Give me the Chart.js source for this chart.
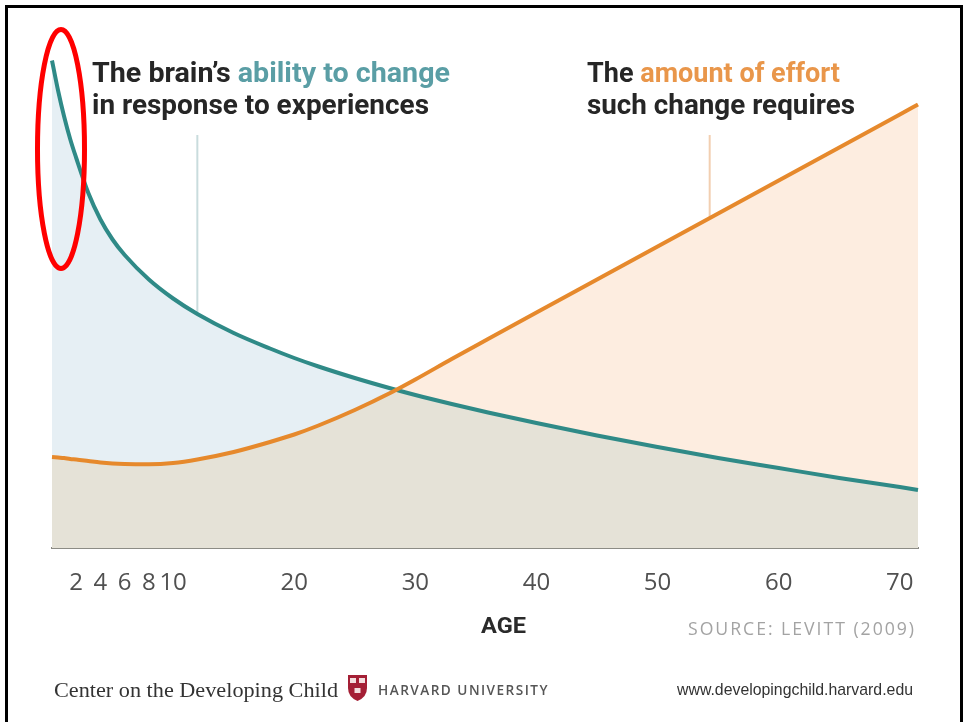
<!DOCTYPE html>
<html lang="en">
<head>
<meta charset="UTF-8">
<title>The brain's ability to change vs. the effort it requires</title>
<script src="https://cdn.jsdelivr.net/npm/chart.js"></script>
<style>
    body { margin: 0; background: #fff; }
    #page { position: relative; width: 964px; height: 722px; overflow: hidden; background: #fff; }
    #frame { position: absolute; left: 5px; top: 5px; width: 952px; height: 760px; border: 3px solid #000; }
    #chart { position: absolute; left: 0; top: 0; }
    .txt { position: absolute; white-space: nowrap; line-height: 1; transform-origin: left top; }
    .title { font-family: Roboto, sans-serif; font-weight: 700; font-size: 28px; color: #262626; }
    .teal { color: #5a9ea5; }
    .orange { color: #e9964a; }
    #age { font-family: Roboto, sans-serif; font-weight: 700; font-size: 22px; color: #2a2a2a; }
    #source { font-family: "Open Sans", sans-serif; font-size: 18px; color: #a3a3a3; letter-spacing: 2px; }
    #center { font-family: "Liberation Serif", serif; font-size: 22px; color: #333; }
    #harvard { font-family: "Open Sans", sans-serif; font-weight: 600; font-size: 14px; color: #555; letter-spacing: 1.5px; }
    #url { font-family: "Liberation Sans Narrow", "Liberation Sans", sans-serif; font-size: 17px; color: #333; }
    svg { position: absolute; left: 0; top: 0; }
</style>
</head>
<body>
<div id="page">
    <canvas id="chart" width="964" height="722"></canvas>

    <div class="txt title" data-fit="358" style="left:92px; top:59px;">The brain’s <span class="teal">ability to change</span></div>
    <div class="txt title" data-fit="337" style="left:92px; top:91px;">in response to experiences</div>
    <div class="txt title" data-fit="253" style="left:587px; top:59px;">The <span class="orange">amount of effort</span></div>
    <div class="txt title" data-fit="268" style="left:587px; top:91px;">such change requires</div>

    <div class="txt" id="age" data-fit="45" style="left:481px; top:615px;">AGE</div>
    <div class="txt" id="source" data-fit="228" style="left:688px; top:619px;">SOURCE: LEVITT (2009)</div>

    <div class="txt" id="center" data-fit="284" style="left:54px; top:679px;">Center on the Developing Child</div>
    <div class="txt" id="harvard" data-fit="171" style="left:378px; top:683px;">HARVARD UNIVERSITY</div>
    <div class="txt" id="url" data-fit="236" style="left:677px; top:681px;">www.developingchild.harvard.edu</div>

    <svg width="964" height="722">
        <!-- shield -->
        <path d="M348 675 H367 V688 Q367 697 357.5 701 Q348 697 348 688 Z" fill="#a41f35"/>
        <rect x="350" y="678" width="6" height="5" fill="#f3dede"/>
        <rect x="359" y="678" width="6" height="5" fill="#f3dede"/>
        <rect x="354.5" y="688" width="6" height="5" fill="#f3dede"/>
        <!-- red highlight -->
        <ellipse cx="61" cy="149" rx="23.5" ry="119.5" fill="none" stroke="#ff0000" stroke-width="5"/>
    </svg>
    <div id="frame"></div>
</div>
<script>
    // ages (years) and the two curves (0 = baseline, 100 = top)
    const ages = [0, 0.5, 1, 1.5, 2, 3, 4, 5, 6, 8, 10, 12, 15, 18, 20, 22, 25, 28, 30, 33, 36, 40, 45, 50, 55, 60, 65, 70, 71.5];
    const abilityToChange = [97.5, 91.5, 86.3, 81.8, 78, 71, 65.7, 61.7, 58.6, 53.7, 49.9, 46.8, 43, 39.9, 38, 36.3, 34, 31.9, 30.6, 28.8, 27.1, 25, 22.5, 20.2, 18, 16, 14, 12.2, 11.6];
    const effortRequired = [18.2, 18.1, 18, 17.8, 17.7, 17.4, 17.1, 16.9, 16.8, 16.75, 17, 17.7, 19.2, 21.2, 22.7, 24.5, 27.6, 31.1, 33.7, 37.8, 41.8, 47.1, 53.7, 60.3, 66.9, 73.5, 80.1, 86.7, 88.7];
    const tickAges = [2, 4, 6, 8, 10, 20, 30, 40, 50, 60, 70];

    // leader lines from the two labels down to their curves
    const pointerAges = [12, 54.3];
    const pointerFrom = [46.8, 66];
    const pointerTo = 82.6;

    const toPoints = (vals) => ages.map((a, i) => ({ x: a, y: vals[i] }));
    const overlap = ages.map((a, i) => ({ x: a, y: Math.min(abilityToChange[i], effortRequired[i]) }));

    const ctx = document.getElementById('chart').getContext('2d');
    const chart = new Chart(ctx, {
        type: 'line',
        data: {
            datasets: [
                {   // area under both curves
                    data: overlap,
                    order: 0,
                    fill: 'origin',
                    backgroundColor: '#e5e2d7',
                    borderColor: 'transparent',
                    borderWidth: 0,
                    pointRadius: 0,
                    cubicInterpolationMode: 'monotone'
                },
                {
                    label: 'Ability to change',
                    data: toPoints(abilityToChange),
                    order: 2,
                    fill: 'origin',
                    backgroundColor: '#e6eff4',
                    borderColor: '#2f8a87',
                    borderWidth: 4,
                    pointRadius: 0,
                    cubicInterpolationMode: 'monotone',
                    clip: 6
                },
                {
                    label: 'Effort required',
                    data: toPoints(effortRequired),
                    order: 1,
                    fill: 'origin',
                    backgroundColor: '#fdede0',
                    borderColor: '#e6892c',
                    borderWidth: 4,
                    pointRadius: 0,
                    cubicInterpolationMode: 'monotone',
                    clip: 6
                },
                {
                    data: [{ x: pointerAges[0], y: pointerFrom[0] }, { x: pointerAges[0], y: pointerTo }],
                    order: 3,
                    fill: false,
                    borderColor: '#c9dcdd',
                    borderWidth: 2,
                    pointRadius: 0
                },
                {
                    data: [{ x: pointerAges[1], y: pointerFrom[1] }, { x: pointerAges[1], y: pointerTo }],
                    order: 3,
                    fill: false,
                    borderColor: '#f2cfb1',
                    borderWidth: 2,
                    pointRadius: 0
                }
            ]
        },
        options: {
            responsive: false,
            animation: false,
            layout: { padding: { left: 52, right: 46, top: 48, bottom: 114 } },
            plugins: {
                legend: { display: false },
                tooltip: { enabled: false },
                filler: { drawTime: 'beforeDatasetsDraw' }
            },
            scales: {
                x: {
                    type: 'linear',
                    min: 0,
                    max: 71.5,
                    z: 1,
                    grid: { display: false, drawTicks: false },
                    border: { display: true, color: '#8c8c85', width: 2 },
                    afterBuildTicks: (scale) => { scale.ticks = tickAges.map(v => ({ value: v })); },
                    afterFit: (scale) => { scale.height = 60; },
                    ticks: {
                        autoSkip: false,
                        maxRotation: 0,
                        padding: 21,
                        color: '#505050',
                        font: { family: 'Open Sans', size: 24 }
                    }
                },
                y: { display: false, min: 0, max: 100 }
            }
        }
    });

    // squeeze / stretch each text line to the width it has in the original
    document.querySelectorAll('[data-fit]').forEach(el => {
        const w = el.getBoundingClientRect().width;
        el.style.transform = 'scaleX(' + (Number(el.dataset.fit) / w) + ')';
    });
</script>
</body>
</html>
